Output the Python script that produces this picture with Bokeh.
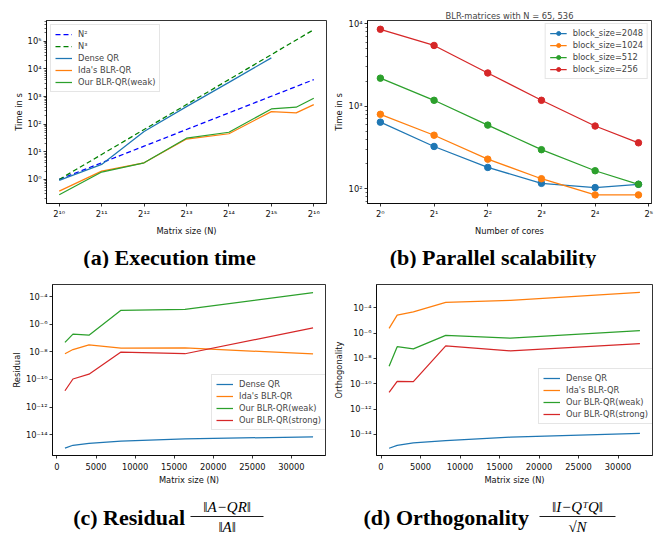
from bokeh.plotting import figure
from bokeh.models import Range1d, FixedTicker, CustomJSTickFormatter
from bokeh.layouts import column, row
from bokeh.embed import file_html
from bokeh.resources import INLINE
from bokeh.core.properties import value

# ---------------- data ----------------
# (a) execution time
N_a = [1024, 2048, 4096, 8192, 16384, 32768, 65536]
ref_n2 = [1, 4, 16, 64, 256, 1024, 4096]
ref_n3 = [1, 8, 64, 512, 4096, 32768, 262144]
N_dense_a = [1024, 2048, 4096, 8192, 16384, 32768]
t_dense = [0.92, 3.5, 54, 430, 3250, 25000]
N_blr_a = [1024, 2048, 4096, 8192, 16384, 32768, 49152, 65536]
t_ida = [0.38, 2.0, 4.0, 29, 45, 285, 256, 510]
t_weak = [0.28, 1.85, 4.0, 31, 51, 355, 410, 870]

# (b) parallel scalability
cores = [1, 2, 4, 8, 16, 28]
bs_labels = ["block_size=2048", "block_size=1024", "block_size=512", "block_size=256"]
t_bs2048 = [641, 325, 181, 116, 103, 113]
t_bs1024 = [798, 445, 228, 132, 84, 84]
t_bs512 = [2190, 1180, 590, 297, 165, 113]
t_bs256 = [8580, 5460, 2530, 1180, 575, 360]

# (c) residual
N_c = [1024, 2048, 4096, 8192, 16384, 32768]
res_dense = [1.05e-15, 1.7e-15, 2.3e-15, 3.4e-15, 5.0e-15, 6.9e-15]
res_ida = [7.2e-9, 1.45e-8, 3.2e-8, 1.8e-8, 1.9e-8, 6.9e-9]
res_weak = [4.8e-8, 1.9e-7, 1.6e-7, 1.0e-5, 1.17e-5, 1.9e-4]
res_strong = [1.5e-11, 1.07e-10, 2.4e-10, 9.5e-9, 7.2e-9, 5.3e-7]

# (d) orthogonality
orth_dense = [8.0e-16, 1.35e-15, 2.1e-15, 3.2e-15, 6.0e-15, 1.2e-14]
orth_ida = [2.4e-6, 2.7e-5, 4.8e-5, 2.7e-4, 4.0e-4, 1.66e-3]
orth_weak = [2.4e-9, 8.5e-8, 5.7e-8, 6.8e-7, 4.0e-7, 1.6e-6]
orth_strong = [2.1e-11, 1.55e-10, 1.5e-10, 1.0e-7, 4.0e-8, 1.5e-7]

method_labels = ["Dense QR", "Ida's BLR-QR", "Our BLR-QR(weak)", "Our BLR-QR(strong)"]
x_ticks_lin = [0, 5000, 10000, 15000, 20000, 25000, 30000]

# ---------------- style ----------------
C_BLUE, C_ORANGE, C_GREEN, C_RED = "#1f77b4", "#ff7f0e", "#2ca02c", "#d62728"
FONT = "DejaVu Sans"
FS = "8.3px"
LW = 1.25


def sup_formatter(base):
    code = """
    const s = {'0':'\u2070','1':'\u00b9','2':'\u00b2','3':'\u00b3','4':'\u2074',
               '5':'\u2075','6':'\u2076','7':'\u2077','8':'\u2078','9':'\u2079','-':'\u207b'};
    const e = Math.round(Math.log(tick) / Math.log(%d));
    return '%d' + String(e).split('').map(c => s[c]).join('');
    """ % (base, base)
    return CustomJSTickFormatter(code=code)


def style(p):
    p.grid.visible = False
    p.outline_line_color = "black"
    p.outline_line_width = 0.8
    p.background_fill_color = "white"
    p.border_fill_color = "white"
    for ax in list(p.xaxis) + list(p.yaxis):
        ax.axis_line_color = "black"
        ax.axis_line_width = 0.8
        ax.major_tick_in = 0
        ax.major_tick_out = 3
        ax.minor_tick_in = 0
        ax.minor_tick_out = 2
        ax.major_tick_line_color = "black"
        ax.minor_tick_line_color = "black"
        ax.major_tick_line_width = 0.8
        ax.minor_tick_line_width = 0.6
        ax.major_label_text_font = FONT
        ax.major_label_text_font_size = FS
        ax.major_label_text_color = "#111111"
        ax.axis_label_text_font = FONT
        ax.axis_label_text_font_size = FS
        ax.axis_label_text_font_style = "normal"
        ax.axis_label_text_color = "#111111"
        ax.major_label_standoff = 2
        ax.axis_label_standoff = 4


def style_legend(p, location):
    lg = p.legend[0]
    lg.location = location
    lg.label_text_font = FONT
    lg.label_text_font_size = FS
    lg.label_height = 10
    lg.glyph_height = 10
    lg.glyph_width = 17
    lg.label_standoff = 6
    lg.spacing = 2
    lg.padding = 4
    lg.margin = 4
    lg.border_line_color = "#cccccc"
    lg.border_line_width = 0.8
    lg.background_fill_alpha = 0.85


def log_minor(lo, hi):
    out = []
    for d in range(lo, hi + 1):
        for k in range(2, 10):
            out.append(k * 10.0 ** d)
    return out


# ---------------- (a) ----------------
pa = figure(width=330, height=240, x_axis_type="log", y_axis_type="log",
            x_range=Range1d(2 ** 9.7, 2 ** 16.3), y_range=Range1d(10 ** -0.87, 10 ** 5.75),
            min_border_left=46, min_border_right=4, min_border_top=20, min_border_bottom=37,
            toolbar_location=None, output_backend="svg")
pa.line(N_a, ref_n2, color="#0000ff", line_width=LW, line_dash="5 3", legend_label="N\u00b2")
pa.line(N_a, ref_n3, color="#008000", line_width=LW, line_dash="5 3", legend_label="N\u00b3")
pa.line(N_dense_a, t_dense, color=C_BLUE, line_width=LW, legend_label=method_labels[0])
pa.line(N_blr_a, t_ida, color=C_ORANGE, line_width=LW, legend_label=method_labels[1])
pa.line(N_blr_a, t_weak, color=C_GREEN, line_width=LW, legend_label=method_labels[2])
style(pa)
pa.xaxis.ticker = FixedTicker(ticks=N_a, minor_ticks=[])
pa.xaxis.formatter = sup_formatter(2)
pa.yaxis.ticker = FixedTicker(ticks=[10.0 ** d for d in range(0, 6)], minor_ticks=log_minor(-1, 5))
pa.yaxis.formatter = sup_formatter(10)
pa.xaxis.axis_label = "Matrix size (N)"
pa.yaxis.axis_label = "Time in s"
pa.yaxis.axis_label_standoff = 1
style_legend(pa, "top_left")

# ---------------- (b) ----------------
pb = figure(width=338, height=240, x_axis_type="log", y_axis_type="log",
            x_range=Range1d(2 ** -0.24, 2 ** 5.05), y_range=Range1d(10 ** 1.82, 10 ** 4.04),
            min_border_left=37, min_border_right=17, min_border_top=17, min_border_bottom=37,
            title="BLR-matrices with N = 65, 536",
            toolbar_location=None, output_backend="svg")
for vals, col, lab in zip([t_bs2048, t_bs1024, t_bs512, t_bs256],
                          [C_BLUE, C_ORANGE, C_GREEN, C_RED], bs_labels):
    pb.line(cores, vals, color=col, line_width=LW, legend_label=lab)
    pb.scatter(cores, vals, marker="circle", size=6.5, color=col, legend_label=lab)
style(pb)
pb.title.text_font = FONT
pb.title.text_font_size = FS
pb.title.text_font_style = "normal"
pb.title.align = "center"
pb.title.standoff = 0
pb.title.offset = 0
pb.xaxis.ticker = FixedTicker(ticks=[1, 2, 4, 8, 16, 32], minor_ticks=[])
pb.xaxis.formatter = sup_formatter(2)
pb.yaxis.ticker = FixedTicker(ticks=[100.0, 1000.0, 10000.0], minor_ticks=log_minor(1, 3))
pb.yaxis.formatter = sup_formatter(10)
pb.xaxis.axis_label = "Number of cores"
pb.yaxis.axis_label = "Time in s"
pb.yaxis.axis_label_standoff = 2
style_legend(pb, "top_right")
pb.legend[0].margin = 3

# ---------------- (c) ----------------
pc = figure(width=330, height=224, y_axis_type="log",
            x_range=Range1d(-570, 34360), y_range=Range1d(10 ** -15.51, 10 ** -3.13),
            min_border_left=52, min_border_right=5, min_border_top=16, min_border_bottom=30,
            toolbar_location=None, output_backend="svg")
for vals, col, lab in zip([res_dense, res_ida, res_weak, res_strong],
                          [C_BLUE, C_ORANGE, C_GREEN, C_RED], method_labels):
    pc.line(N_c, vals, color=col, line_width=LW, legend_label=lab)
style(pc)
pc.xaxis.ticker = FixedTicker(ticks=x_ticks_lin, minor_ticks=[])
pc.yaxis.ticker = FixedTicker(ticks=[10.0 ** d for d in range(-14, -3, 2)], minor_ticks=[])
pc.yaxis.formatter = sup_formatter(10)
pc.xaxis.axis_label = "Matrix size (N)"
pc.yaxis.axis_label = "Residual"
pc.xaxis.major_label_standoff = 4
pc.xaxis.axis_label_standoff = 2
pc.yaxis.axis_label_standoff = 1
style_legend(pc, (159, 25))

# ---------------- (d) ----------------
pd = figure(width=338, height=224, y_axis_type="log",
            x_range=Range1d(-570, 34360), y_range=Range1d(10 ** -15.67, 10 ** -2.15),
            min_border_left=44, min_border_right=16, min_border_top=6, min_border_bottom=37,
            toolbar_location=None, output_backend="svg")
for vals, col, lab in zip([orth_dense, orth_ida, orth_weak, orth_strong],
                          [C_BLUE, C_ORANGE, C_GREEN, C_RED], method_labels):
    pd.line(N_c, vals, color=col, line_width=LW, legend_label=lab)
style(pd)
pd.xaxis.ticker = FixedTicker(ticks=x_ticks_lin, minor_ticks=[])
pd.yaxis.ticker = FixedTicker(ticks=[10.0 ** d for d in range(-14, -3, 2)], minor_ticks=[])
pd.yaxis.formatter = sup_formatter(10)
pd.xaxis.axis_label = "Matrix size (N)"
pd.yaxis.axis_label = "Orthogonality"
pd.xaxis.major_label_standoff = 4
pd.xaxis.axis_label_standoff = 2
pd.yaxis.axis_label_standoff = 3
style_legend(pd, (162, 31))


# ---------------- captions ----------------
def caption_fig(w, h):
    c = figure(width=w, height=h, x_range=Range1d(0, w), y_range=Range1d(0, h),
               x_axis_location=None, y_axis_location=None,
               min_border=0, toolbar_location=None, output_backend="svg")
    c.grid.visible = False
    c.outline_line_color = None
    return c


SERIF = value("Liberation Serif")

ca = caption_fig(330, 28)
ca.text(x=[169], y=[11.5], text=["(a) Execution time"], text_align="center",
        text_baseline="middle", text_font=SERIF, text_font_style="bold",
        text_font_size="22px", text_color="black")
cb = caption_fig(338, 28)
cb.text(x=[162.5], y=[11.5], text=["(b) Parallel scalability"], text_align="center",
        text_baseline="middle", text_font=SERIF, text_font_style="bold",
        text_font_size="22px", text_color="black")

cc = caption_fig(330, 44)
cc.text(x=[72.7], y=[19], text=["(c) Residual"], text_align="left",
        text_baseline="middle", text_font=SERIF, text_font_style="bold",
        text_font_size="22px", text_color="black")
cc.text(x=[226.7, 226.7], y=[30, 10], text=["\u2016A\u2212QR\u2016", "\u2016A\u2016"],
        text_align="center", text_baseline="middle", text_font=SERIF,
        text_font_style="italic", text_font_size="15px", text_color="black")
cc.segment(x0=[190], y0=[20], x1=[263], y1=[20], line_color="black", line_width=0.9)

cdd = caption_fig(338, 44)
cdd.text(x=[33], y=[19], text=["(d) Orthogonality"], text_align="left",
         text_baseline="middle", text_font=SERIF, text_font_style="bold",
         text_font_size="22px", text_color="black")
cdd.text(x=[247, 247], y=[30, 10], text=["\u2016I\u2212Q\u1d40Q\u2016", "\u221aN"],
         text_align="center", text_baseline="middle", text_font=SERIF,
         text_font_style="italic", text_font_size="15px", text_color="black")
cdd.segment(x0=[209], y0=[20], x1=[285], y1=[20], line_color="black", line_width=0.9)

layout = column(row(pa, pb), row(ca, cb), row(pc, pd), row(cc, cdd))

open("out.html", "w").write(file_html(layout, INLINE, "BLR-QR results"))
